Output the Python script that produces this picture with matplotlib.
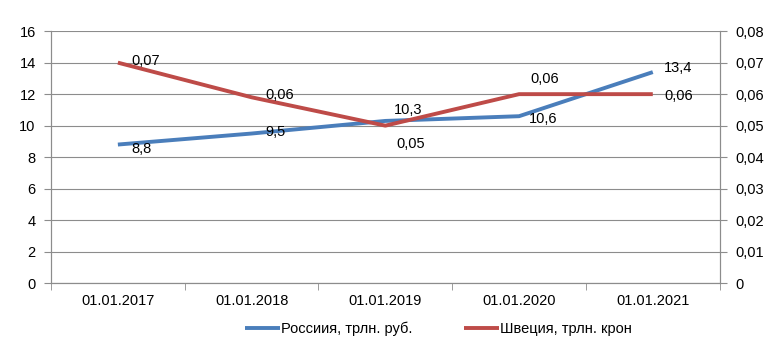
import matplotlib.pyplot as plt
from matplotlib.ticker import FuncFormatter, FixedLocator

# Данные
fechas = ['01.01.2017', '01.01.2018', '01.01.2019', '01.01.2020', '01.01.2021']
rossiya = [8.8, 9.5, 10.3, 10.6, 13.4]
shveciya = [0.07, 0.059, 0.05, 0.06, 0.06]
rossiya_labels = ['8,8', '9,5', '10,3', '10,6', '13,4']
shveciya_labels = ['0,07', '0,06', '0,05', '0,06', '0,06']

azul = '#4A7EBB'
rojo = '#BE4B48'
gris = '#8C8C8C'
fs = 10.5

plt.rcParams['font.family'] = ['Liberation Sans', 'DejaVu Sans']

fig = plt.figure(figsize=(7.73, 3.5), dpi=100)
ax = fig.add_axes([0.066, 0.191, 0.865, 0.72])
ax2 = ax.twinx()

x = list(range(len(fechas)))
l1, = ax.plot(x, rossiya, color=azul, lw=2.8, solid_capstyle='butt', zorder=3)
l2, = ax2.plot(x, shveciya, color=rojo, lw=2.8, solid_capstyle='butt', zorder=3)

ax.set_xlim(-0.5, 4.5)
ax.set_ylim(0, 16)
ax.set_yticks(range(0, 17, 2))
ax2.set_ylim(0, 0.08)
ax2.set_yticks([0, 0.01, 0.02, 0.03, 0.04, 0.05, 0.06, 0.07, 0.08])
ax2.yaxis.set_major_formatter(FuncFormatter(
    lambda v, p: '0' if v == 0 else f'{v:.2f}'.replace('.', ',')))

ax.set_xticks(x)
ax.set_xticklabels(fechas)
ax.xaxis.set_minor_locator(FixedLocator([-0.5, 0.5, 1.5, 2.5, 3.5, 4.5]))
ax.tick_params(axis='x', which='major', length=0, pad=8, labelsize=fs)
ax.tick_params(axis='x', which='minor', length=5, color=gris)
ax.tick_params(axis='y', length=5, color=gris, labelsize=fs, pad=6)
ax2.tick_params(axis='y', length=5, color=gris, labelsize=fs, pad=6)

ax.grid(axis='y', color=gris, lw=0.8)
for a in (ax, ax2):
    a.spines['top'].set_visible(False)
    for s in ('left', 'right', 'bottom'):
        a.spines[s].set_color(gris)
        a.spines[s].set_linewidth(0.8)

# Подписи данных
offs_r = [(10, -3), (10, 1), (6, 8), (7, -2), (8, 3)]
offs_s = [(10, 1), (10, 2), (8, -13), (8, 11), (8, -1)]
for i in x:
    ax.annotate(rossiya_labels[i], (i, rossiya[i]), xytext=offs_r[i],
                textcoords='offset points', fontsize=fs, va='center', ha='left', zorder=5)
    ax2.annotate(shveciya_labels[i], (i, shveciya[i]), xytext=offs_s[i],
                 textcoords='offset points', fontsize=fs, va='center', ha='left', zorder=5)

fig.legend([l1, l2], ['Россиия, трлн. руб.', 'Швеция, трлн. крон'],
           loc='center', bbox_to_anchor=(0.567, 0.06), ncol=2, frameon=False,
           fontsize=fs, handlelength=2.4, columnspacing=3.5, handletextpad=0.1)

fig.savefig('out.png', dpi=100)
